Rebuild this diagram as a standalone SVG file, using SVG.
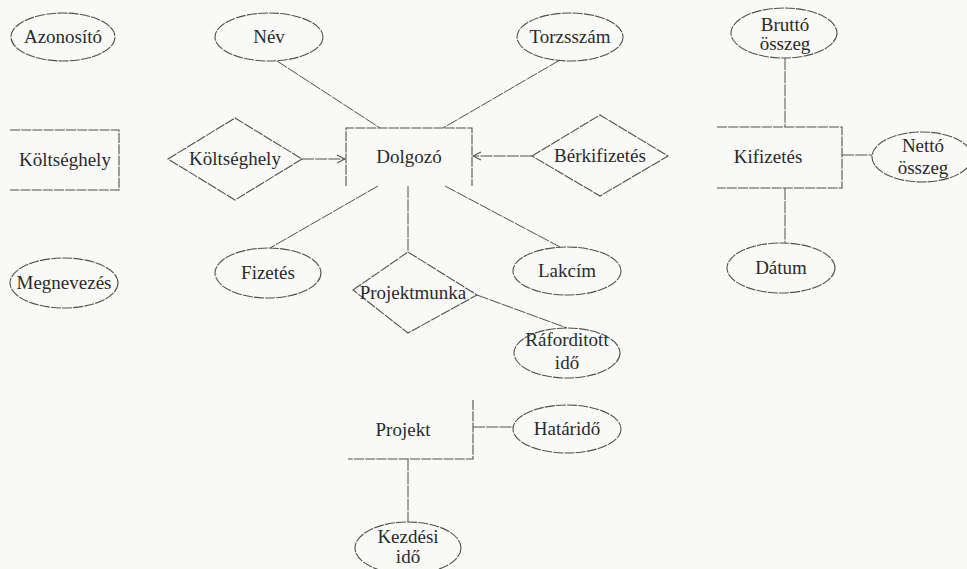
<svg xmlns="http://www.w3.org/2000/svg" width="967" height="569" viewBox="0 0 967 569">
<defs>
<style>
.sh{fill:none;stroke:#505050;stroke-width:1.1;stroke-dasharray:10 1.2}
.ln{fill:none;stroke:#505050;stroke-width:1;stroke-dasharray:12 1.2}
text{font-family:"Liberation Serif","DejaVu Serif","Times New Roman",serif;font-size:19px;fill:#2a2a2a;text-anchor:middle}
</style>
<marker id="arr" markerWidth="10" markerHeight="10" refX="9" refY="5" orient="auto" markerUnits="userSpaceOnUse">
<path d="M1,1 L9,5 L1,9" fill="none" stroke="#505050" stroke-width="1.1"/>
</marker>
</defs>
<rect width="967" height="569" fill="#f9f9f7"/>
<g id="connectors">
<line class="ln" x1="277" y1="61" x2="380" y2="128"/>
<line class="ln" x1="560" y1="60" x2="443" y2="128"/>
<line class="ln" x1="302" y1="159" x2="345" y2="159" marker-end="url(#arr)"/>
<line class="ln" x1="532" y1="156" x2="473" y2="156" marker-end="url(#arr)"/>
<line class="ln" x1="785" y1="58" x2="785" y2="127"/>
<line class="ln" x1="842" y1="155" x2="872" y2="155"/>
<line class="ln" x1="785" y1="188" x2="785" y2="243"/>
<line class="ln" x1="378" y1="186" x2="270" y2="248"/>
<line class="ln" x1="408" y1="186" x2="408" y2="252"/>
<line class="ln" x1="445" y1="186" x2="560" y2="247"/>
<line class="ln" x1="477" y1="295" x2="567" y2="328"/>
<line class="ln" x1="473" y1="427" x2="513" y2="427"/>
<line class="ln" x1="408" y1="459" x2="408" y2="522"/>
</g>
<g id="azonosito"><ellipse class="sh" cx="63" cy="37" rx="52" ry="24"/><text x="63" y="43" font-family="Liberation Serif, serif">Azonosító</text></g>
<g id="nev"><ellipse class="sh" cx="269" cy="37" rx="54" ry="24"/><text x="269" y="43" font-family="Liberation Serif, serif">Név</text></g>
<g id="torzsszam"><ellipse class="sh" cx="570" cy="37" rx="53" ry="24"/><text x="570" y="43" font-family="Liberation Serif, serif">Torzsszám</text></g>
<g id="brutto"><ellipse class="sh" cx="784" cy="33" rx="53" ry="25"/><text x="785" y="31" font-family="Liberation Serif, serif">Bruttó</text><text x="785" y="50" font-family="Liberation Serif, serif">összeg</text></g>
<g id="koltseghely-ent"><path class="sh" d="M10,130 H119 V190 H10"/><text x="65" y="166" font-family="Liberation Serif, serif">Költséghely</text></g>
<g id="koltseghely-rel"><polygon class="sh" points="168,159 235,118 302,159 235,200"/><text x="235" y="165" font-family="Liberation Serif, serif">Költséghely</text></g>
<g id="dolgozo"><path class="sh" d="M346,186 V128 H472 V186"/><text x="409" y="163" font-family="Liberation Serif, serif">Dolgozó</text></g>
<g id="berkifizetes"><polygon class="sh" points="532,156 600,115 668,156 600,196"/><text x="600" y="162" font-family="Liberation Serif, serif">Bérkifizetés</text></g>
<g id="kifizetes"><path class="sh" d="M717,127 H842 V188 H717"/><text x="768" y="163" font-family="Liberation Serif, serif">Kifizetés</text></g>
<g id="netto"><ellipse class="sh" cx="922" cy="157" rx="50" ry="25"/><text x="923" y="152" font-family="Liberation Serif, serif">Nettó</text><text x="923" y="174" font-family="Liberation Serif, serif">összeg</text></g>
<g id="datum"><ellipse class="sh" cx="781" cy="268" rx="54" ry="25"/><text x="781" y="274" font-family="Liberation Serif, serif">Dátum</text></g>
<g id="megnevezes"><ellipse class="sh" cx="64" cy="283" rx="54" ry="25"/><text x="64" y="289" font-family="Liberation Serif, serif">Megnevezés</text></g>
<g id="fizetes"><ellipse class="sh" cx="268" cy="273" rx="53" ry="25"/><text x="268" y="279" font-family="Liberation Serif, serif">Fizetés</text></g>
<g id="projektmunka"><polygon class="sh" points="353,290 408,252 477,295 408,333"/><text x="413" y="299" font-family="Liberation Serif, serif">Projektmunka</text></g>
<g id="lakcim"><ellipse class="sh" cx="567" cy="271" rx="54" ry="24"/><text x="567" y="277" font-family="Liberation Serif, serif">Lakcím</text></g>
<g id="raforditott"><ellipse class="sh" cx="567" cy="353" rx="53" ry="25"/><text x="567" y="346" font-family="Liberation Serif, serif">Ráforditott</text><text x="567" y="369" font-family="Liberation Serif, serif">idő</text></g>
<g id="projekt"><path class="sh" d="M473,400 V459 H348"/><text x="403" y="436" font-family="Liberation Serif, serif">Projekt</text></g>
<g id="hatarido"><ellipse class="sh" cx="567" cy="429" rx="54" ry="24"/><text x="567" y="435" font-family="Liberation Serif, serif">Határidő</text></g>
<g id="kezdesi"><ellipse class="sh" cx="408" cy="548" rx="53" ry="26"/><text x="408" y="543" font-family="Liberation Serif, serif">Kezdési</text><text x="408" y="563" font-family="Liberation Serif, serif">idő</text></g>
</svg>
